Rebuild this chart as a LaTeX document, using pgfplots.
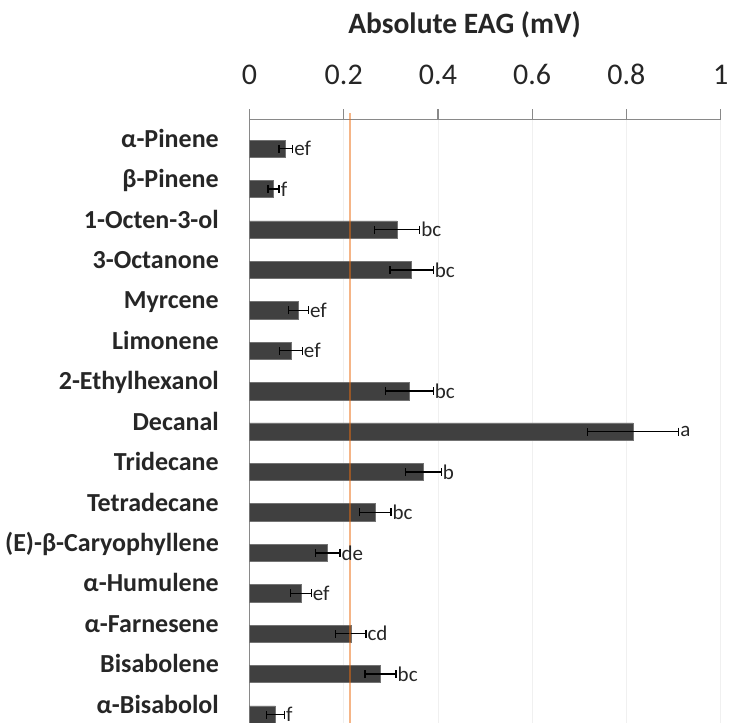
\documentclass[border=0pt]{standalone}
\usepackage{fontspec}
\setmainfont{Carlito}
\usepackage{pgfplots}
\pgfplotsset{compat=1.18}
\usepackage{pgfplotstable}
\definecolor{barc}{RGB}{64,64,64}
\definecolor{barl}{RGB}{115,115,115}
\definecolor{axc}{RGB}{137,137,137}
\definecolor{orgc}{RGB}{235,108,15}
\definecolor{txtc}{RGB}{38,38,38}

\pgfplotstableread{
y v e lab
14 0.077 0.0146 ef
13 0.051 0.012 f
12 0.313 0.048 bc
11 0.344 0.046 bc
10 0.104 0.021 ef
9 0.088 0.024 ef
8 0.339 0.051 bc
7 0.814 0.097 a
6 0.369 0.038 b
5 0.267 0.033 bc
4 0.166 0.026 de
3 0.109 0.022 ef
2 0.215 0.032 cd
1 0.278 0.033 bc
0 0.055 0.019 f
}\data

\begin{document}
\begin{tikzpicture}
\begin{axis}[
  scale only axis, width=471.2pt, height=603.7pt,
  xmin=0, xmax=1, ymin=-0.21, ymax=14.728,
  axis x line*=top, axis y line*=left,
  axis line style={-, axc, line width=1.3pt},
  xtick={0,0.2,0.4,0.6,0.8,1},
  tick align=outside, major tick length=10pt,
  xtick style={axc, line width=1.3pt},
  ytick style={draw=none},
  xmajorgrids, grid style={black!6, line width=0.8pt},
  ytick={0,...,14},
  yticklabels={{α-Bisabolol},{Bisabolene},{α-Farnesene},{α-Humulene},{(E)-β-Caryophyllene},{Tetradecane},{Tridecane},{Decanal},{2-Ethylhexanol},{Limonene},{Myrcene},{3-Octanone},{1-Octen-3-ol},{β-Pinene},{α-Pinene}},
  yticklabel style={font=\bfseries\fontsize{26}{26}\selectfont, text=txtc, anchor=base east, inner sep=0pt, xshift=-20.5pt, yshift=1.4pt},
  xticklabel style={font=\fontsize{30}{30}\selectfont, text=txtc, anchor=base, inner sep=0pt, yshift=25pt},
  /pgf/number format/assume math mode=true,
  clip=false,
]
\addplot[xbar, bar width=17.3pt, fill=barc, draw=barl, line width=0.6pt,
  error bars/.cd, x dir=both, x explicit, error mark=|,
  error bar style={black, line width=1.4pt},
  error mark options={black, line width=1.4pt, mark size=4pt}]
  table[x=v, y=y, x error=e] {\data};
\addplot[orgc, opacity=0.5, line width=2pt] coordinates {(0.213,-0.4) (0.213,14.88)};
\addplot[only marks, mark=none, nodes near coords, nodes near coords align=horizontal, point meta=explicit symbolic,
  nodes near coords style={anchor=west, font=\fontsize{21}{21}\selectfont, text=txtc, inner sep=1.5pt}]
  table[x expr=\thisrow{v}+\thisrow{e}, y=y, meta=lab] {\data};
\end{axis}
\node[anchor=base, font=\bfseries\fontsize{29.5}{29.5}\selectfont, text=txtc] at ([xshift=215pt, yshift=86pt]current axis.north west) {Absolute EAG (mV)};
\pgfresetboundingbox
\path[use as bounding box] ([xshift=-249.5pt]current axis.south west) rectangle ([xshift=8.3pt, yshift=119.3pt]current axis.north east);
\end{tikzpicture}
\end{document}
